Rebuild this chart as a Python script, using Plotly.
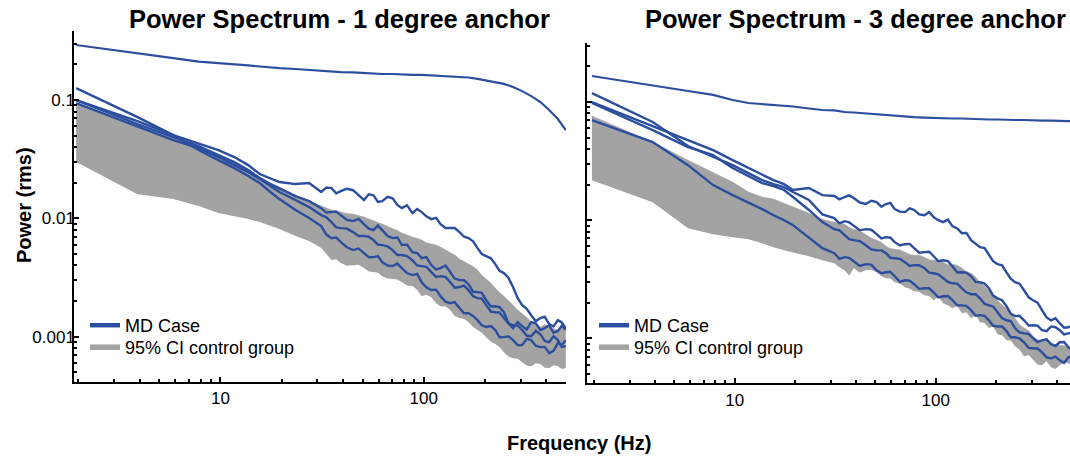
import plotly.graph_objects as go

# ---------------- data ----------------
# coarse grid for the smooth upper curves
freq = [1.95, 3.91, 5.86, 7.81, 9.77, 11.7, 13.7, 15.6, 17.6, 19.5, 23.4, 27.3, 31.3, 35.2, 39.1,
        44.9, 50.8, 56.6, 62.5, 70.3, 78.1, 87.9, 97.7, 109, 121, 135, 150, 166, 184, 203, 225,
        248, 275, 305, 338, 375, 414, 457, 500]
# finer grid for the noisy curves and the CI band
freq_fine = [1.95, 3.91, 5.86, 7.81, 9.77, 11.7, 13.7, 15.6, 17.6, 19.5, 23.4, 27.3, 31.3, 33.2, 35.2,
             37.1, 39.1, 41.9, 44.9, 47.8, 50.8, 53.7, 56.6, 59.5, 62.5, 66.4, 70.3, 74.2, 78.1, 82.8,
             87.9, 92.8, 97.7, 103, 109, 115, 121, 128, 135, 142, 150, 158, 166, 175, 184, 193, 203,
             214, 225, 236, 248, 261, 275, 290, 305, 321, 338, 356, 375, 394, 414, 435, 457, 478, 500]

# ---- 1 degree anchor ----
a1_top = [0.292, 0.250, 0.226, 0.211, 0.206, 0.200, 0.196, 0.192, 0.188, 0.186, 0.183, 0.179, 0.176,
          0.174, 0.172, 0.171, 0.169, 0.167, 0.166, 0.166, 0.164, 0.163, 0.163, 0.161, 0.160, 0.158,
          0.156, 0.155, 0.151, 0.146, 0.142, 0.137, 0.129, 0.119, 0.108, 0.0962, 0.0823, 0.0691, 0.0557]
a1_ci_hi = [0.0943, 0.0603, 0.0477, 0.0401, 0.0350, 0.0299, 0.0256, 0.0223, 0.0199, 0.0184, 0.0157, 0.0140,
            0.0127, 0.0122, 0.01175, 0.0116, 0.0113, 0.0110, 0.01087, 0.0106, 0.01026, 0.00990, 0.00949,
            0.00925, 0.00895, 0.00855, 0.00828, 0.00790, 0.00751, 0.00718, 0.00695, 0.00680, 0.00656,
            0.00622, 0.00606, 0.00595, 0.00572, 0.00540, 0.00519, 0.00490, 0.00453, 0.00428, 0.00411,
            0.00392, 0.00366, 0.00330, 0.00307, 0.00284, 0.00258, 0.00236, 0.00220, 0.00203, 0.00185,
            0.00168, 0.00158, 0.00146, 0.00133, 0.00126, 0.00121, 0.00127, 0.00123, 0.00117, 0.00114,
            0.00121, 0.00118]
a1_ci_lo = [0.0299, 0.0160, 0.01456, 0.0127, 0.01109, 0.01046, 0.00986, 0.00930, 0.00861, 0.00812, 0.00709,
            0.00643, 0.00561, 0.00500, 0.00444, 0.00452, 0.00419, 0.00398, 0.00403, 0.00405, 0.00380,
            0.00355, 0.00352, 0.00348, 0.00325, 0.00311, 0.00307, 0.00305, 0.00289, 0.00271, 0.00268,
            0.00250, 0.00220, 0.00226, 0.00216, 0.00192, 0.00181, 0.00180, 0.00168, 0.00150, 0.00144,
            0.00141, 0.00133, 0.00121, 0.00114, 0.00108, 0.000992, 0.000905, 0.000866, 0.000820,
            0.000741, 0.000680, 0.000659, 0.000652, 0.000610, 0.000570, 0.000564, 0.000596, 0.000587,
            0.000548, 0.000543, 0.000575, 0.000564, 0.000533, 0.000543]
a1_md1 = [0.100, 0.0664, 0.0506, 0.0433, 0.0378, 0.0330, 0.0282, 0.0237, 0.0219, 0.0203, 0.0195, 0.0199,
          0.0167, 0.0182, 0.0180, 0.0163, 0.0170, 0.0178, 0.0173, 0.0158, 0.0143, 0.0160, 0.0157, 0.0138,
          0.0140, 0.0152, 0.0148, 0.0130, 0.0122, 0.0129, 0.01109, 0.0120, 0.0113, 0.0104, 0.00986,
          0.0101, 0.00895, 0.00830, 0.00828, 0.00830, 0.00766, 0.00700, 0.00681, 0.00640, 0.00561,
          0.00500, 0.00480, 0.00460, 0.00411, 0.00360, 0.00345, 0.00315, 0.00263, 0.00212, 0.00185,
          0.00172, 0.00152, 0.00135, 0.00144, 0.00148, 0.00128, 0.00122, 0.00138, 0.00132, 0.00118]
a1_md2 = [0.100, 0.0627, 0.0487, 0.0409, 0.0343, 0.0299, 0.0256, 0.0219, 0.0195, 0.0180, 0.0154, 0.0140,
          0.0122, 0.0112, 0.0113, 0.0114, 0.01066, 0.0097, 0.00949, 0.0099, 0.00895, 0.0082, 0.00796,
          0.0087, 0.00796, 0.0071, 0.00681, 0.0069, 0.00595, 0.0060, 0.00519, 0.0051, 0.00462, 0.0047,
          0.00403, 0.0037, 0.00380, 0.0040, 0.00352, 0.0031, 0.00301, 0.0030, 0.00278, 0.0024, 0.00238,
          0.00235, 0.00204, 0.00180, 0.00181, 0.00178, 0.00161, 0.00130, 0.00118, 0.00133, 0.00123,
          0.00115, 0.00133, 0.00130, 0.00114, 0.00118, 0.00125, 0.00108, 0.00112, 0.00124, 0.00114]
a1_md3 = [0.0943, 0.0603, 0.0459, 0.0393, 0.0330, 0.0282, 0.0246, 0.0215, 0.0187, 0.0167, 0.0143, 0.01246,
          0.01066, 0.0102, 0.00930, 0.0084, 0.00828, 0.0082, 0.00766, 0.0071, 0.00709, 0.0070, 0.00656,
          0.0060, 0.00595, 0.0058, 0.00540, 0.0049, 0.00490, 0.0048, 0.00444, 0.0040, 0.00395, 0.0039,
          0.00352, 0.0032, 0.00325, 0.0032, 0.00289, 0.0026, 0.00263, 0.0027, 0.00248, 0.0022, 0.00212,
          0.0021, 0.00185, 0.00163, 0.00161, 0.00160, 0.00144, 0.00130, 0.00125, 0.00124, 0.00114,
          0.00102, 0.00101, 0.00112, 0.00105, 0.00092, 0.000900, 0.00101, 0.000936, 0.00082, 0.000833]
a1_md4 = [0.126, 0.0718, 0.0506, 0.0378, 0.0311, 0.0266, 0.0228, 0.0199, 0.0167, 0.01456, 0.01175, 0.01006,
          0.00861, 0.00730, 0.00681, 0.00690, 0.00631, 0.00570, 0.00540, 0.00555, 0.00509, 0.00470,
          0.00471, 0.00480, 0.00427, 0.00400, 0.00395, 0.00415, 0.00380, 0.00345, 0.00332, 0.00340,
          0.00289, 0.00262, 0.00248, 0.00250, 0.00220, 0.00198, 0.00192, 0.00196, 0.00175, 0.00158,
          0.00158, 0.00150, 0.00138, 0.00125, 0.00121, 0.00123, 0.00114, 0.000990, 0.000992, 0.001010,
          0.000936, 0.000850, 0.000849, 0.000960, 0.000936, 0.000840, 0.000817, 0.000820, 0.000727,
          0.000760, 0.000883, 0.000850, 0.000936]

# ---- 3 degree anchor ----
a3_top = [0.166, 0.137, 0.124, 0.115, 0.104, 0.0981, 0.0962, 0.0934, 0.0925, 0.0916, 0.0881, 0.0856,
          0.0848, 0.0823, 0.0815, 0.0799, 0.0783, 0.0776, 0.0761, 0.0754, 0.0746, 0.0739, 0.0732,
          0.0732, 0.0725, 0.0725, 0.0718, 0.0718, 0.0711, 0.0711, 0.0704, 0.0704, 0.0704, 0.0697,
          0.0697, 0.0697, 0.0690, 0.0690, 0.0690]
a3_ci_hi = [0.0761, 0.0458, 0.0322, 0.0255, 0.0210, 0.0173, 0.0157, 0.0151, 0.0139, 0.0131, 0.01146, 0.0102,
            0.00962, 0.00960, 0.00925, 0.00870, 0.00839, 0.00815, 0.00761, 0.00705, 0.00677, 0.00650,
            0.00602, 0.00575, 0.00568, 0.00560, 0.00536, 0.00512, 0.00505, 0.00505, 0.00486, 0.00462,
            0.00458, 0.00455, 0.00441, 0.00420, 0.00424, 0.00415, 0.00392, 0.00368, 0.00355, 0.00330,
            0.00298, 0.00275, 0.00255, 0.00236, 0.00210, 0.00190, 0.00180, 0.00166, 0.00148, 0.00130,
            0.00122, 0.00116, 0.00104, 0.00097, 0.000962, 0.00096, 0.000925, 0.00088, 0.000873, 0.00087,
            0.000823, 0.00078, 0.000791]
a3_ci_lo = [0.0218, 0.0142, 0.00855, 0.00761, 0.00718, 0.00690, 0.00639, 0.00590, 0.00557, 0.00536, 0.00495,
            0.00458, 0.00432, 0.00400, 0.00377, 0.00340, 0.00392, 0.00360, 0.00377, 0.00380, 0.00362,
            0.00335, 0.00322, 0.00320, 0.00298, 0.00290, 0.00270, 0.00262, 0.00250, 0.00248, 0.00231,
            0.00228, 0.00210, 0.00225, 0.00198, 0.00190, 0.00180, 0.00188, 0.00163, 0.00166, 0.00148,
            0.00158, 0.00137, 0.00135, 0.00122, 0.00126, 0.00108, 0.00106, 0.000962, 0.00096, 0.000855,
            0.00080, 0.000704, 0.00072, 0.000651, 0.00060, 0.000590, 0.00064, 0.000568, 0.00055,
            0.000590, 0.00062, 0.000614, 0.00058, 0.000602]
a3_md1 = [0.100, 0.0626, 0.0476, 0.0392, 0.0322, 0.0276, 0.0245, 0.0218, 0.0202, 0.0180, 0.0187, 0.0163,
          0.0160, 0.0150, 0.0157, 0.0162, 0.0154, 0.0141, 0.0137, 0.0146, 0.0142, 0.0130, 0.0137, 0.0140,
          0.0124, 0.0118, 0.0117, 0.0126, 0.0122, 0.0112, 0.0110, 0.0117, 0.0106, 0.0100, 0.00962,
          0.0101, 0.00890, 0.00850, 0.00776, 0.00780, 0.00677, 0.00630, 0.00590, 0.00580, 0.00505,
          0.00450, 0.00424, 0.00415, 0.00362, 0.00320, 0.00298, 0.00290, 0.00255, 0.00222, 0.00210,
          0.00200, 0.00173, 0.00150, 0.00142, 0.00148, 0.00134, 0.00123, 0.00124, 0.00128, 0.00117]
a3_md2 = [0.119, 0.0677, 0.0424, 0.0342, 0.0292, 0.0250, 0.0218, 0.0202, 0.0190, 0.0173, 0.0148, 0.0112,
          0.0104, 0.0094, 0.00981, 0.0096, 0.00890, 0.0082, 0.00839, 0.0083, 0.00761, 0.0070, 0.00718,
          0.0071, 0.00651, 0.0061, 0.00626, 0.0063, 0.00579, 0.0053, 0.00536, 0.0054, 0.00495, 0.0045,
          0.00458, 0.0045, 0.00408, 0.0036, 0.00362, 0.0036, 0.00335, 0.0030, 0.00298, 0.0029, 0.00265,
          0.0023, 0.00218, 0.00210, 0.00187, 0.00162, 0.00154, 0.00155, 0.00142, 0.00128, 0.00129,
          0.00128, 0.00117, 0.00115, 0.00126, 0.00124, 0.00117, 0.00108, 0.00110, 0.00112, 0.00106]
a3_md3 = [0.0981, 0.0579, 0.0416, 0.0355, 0.0276, 0.0236, 0.0206, 0.0194, 0.0180, 0.0157, 0.0122, 0.00962,
          0.00839, 0.00820, 0.00746, 0.00690, 0.00677, 0.00665, 0.00614, 0.00565, 0.00557, 0.00555,
          0.00525, 0.00480, 0.00476, 0.00470, 0.00441, 0.00410, 0.00416, 0.00415, 0.00392, 0.00360,
          0.00355, 0.00348, 0.00322, 0.00300, 0.00292, 0.00290, 0.00265, 0.00245, 0.00236, 0.00236,
          0.00218, 0.00196, 0.00190, 0.00186, 0.00166, 0.00148, 0.00142, 0.00140, 0.00122, 0.00112,
          0.00110, 0.00109, 0.00100, 0.00093, 0.000962, 0.00098, 0.000890, 0.00086, 0.000925, 0.00093,
          0.000839, 0.00080, 0.000823]
a3_md4 = [0.0704, 0.0458, 0.0292, 0.0198, 0.0163, 0.0142, 0.0124, 0.0110, 0.0100, 0.00907, 0.00704, 0.00579,
          0.00525, 0.00470, 0.00486, 0.00480, 0.00449, 0.00410, 0.00424, 0.00420, 0.00377, 0.00355,
          0.00362, 0.00365, 0.00335, 0.00300, 0.00310, 0.00308, 0.00287, 0.00262, 0.00265, 0.00265,
          0.00245, 0.00222, 0.00227, 0.00228, 0.00210, 0.00190, 0.00190, 0.00188, 0.00173, 0.00155,
          0.00157, 0.00155, 0.00142, 0.00128, 0.00126, 0.00126, 0.00115, 0.00102, 0.00102, 0.00100,
          0.000925, 0.000830, 0.000823, 0.000820, 0.000761, 0.000690, 0.000677, 0.000700, 0.000651,
          0.000620, 0.000690, 0.000700, 0.000677]

titles = ["Power Spectrum - 1 degree anchor", "Power Spectrum - 3 degree anchor"]
x_title = "Frequency (Hz)"
y_title = "Power (rms)"
legend_names = ["MD Case", "95% CI control group"]
x_tickvals = [10, 100]
x_ticktext = ["10", "100"]
x_minor = [2, 3, 4, 5, 6, 7, 8, 9, 20, 30, 40, 50, 60, 70, 80, 90, 200, 300, 400, 500]
y_tickvals = [0.001, 0.01, 0.1]
y_ticktext = ["0.001", "0.01", "0.1"]
y_minor = [0.0005, 0.0006, 0.0007, 0.0008, 0.0009, 0.002, 0.003, 0.004, 0.005, 0.006, 0.007, 0.008,
           0.009, 0.02, 0.03, 0.04, 0.05, 0.06, 0.07, 0.08, 0.09, 0.2, 0.3]

BLUE = "#2b4f9e"
GRAY = "#a3a3a3"
FONT = "Liberation Sans, Arial, Helvetica, sans-serif"

W, H = 1070, 459

fig = go.Figure()

panels = [
    ("x", "y", ("legend", "legend2"), a1_ci_lo, a1_ci_hi, a1_top, [a1_md1, a1_md2, a1_md3, a1_md4]),
    ("x2", "y2", ("legend3", "legend4"), a3_ci_lo, a3_ci_hi, a3_top, [a3_md1, a3_md2, a3_md3, a3_md4]),
]

for xa, ya, lgs, lo, hi, top, mds in panels:
    fig.add_trace(go.Scatter(x=freq_fine, y=lo, xaxis=xa, yaxis=ya, mode="lines",
                             line=dict(width=0, color=GRAY), showlegend=False, hoverinfo="skip"))
    fig.add_trace(go.Scatter(x=freq_fine, y=hi, xaxis=xa, yaxis=ya, mode="lines", fill="tonexty",
                             fillcolor=GRAY, line=dict(width=0.5, color=GRAY), showlegend=False,
                             hoverinfo="skip"))
    fig.add_trace(go.Scatter(x=freq, y=top, xaxis=xa, yaxis=ya, mode="lines",
                             line=dict(width=2.2, color=BLUE), showlegend=False))
    for s in mds:
        fig.add_trace(go.Scatter(x=freq_fine, y=s, xaxis=xa, yaxis=ya, mode="lines",
                                 line=dict(width=2.4, color=BLUE), showlegend=False))
    # legend entries (one legend box per entry for exact spacing)
    fig.add_trace(go.Scatter(x=[None], y=[None], xaxis=xa, yaxis=ya, mode="lines",
                             line=dict(width=4.5, color=BLUE), name=legend_names[0], legend=lgs[0]))
    fig.add_trace(go.Scatter(x=[None], y=[None], xaxis=xa, yaxis=ya, mode="lines",
                             line=dict(width=5.5, color=GRAY), name=legend_names[1], legend=lgs[1]))


def px_x(p):
    return p / W


def px_y(p):
    return 1 - p / H


axis_common = dict(
    type="log", showline=True, linecolor="black", linewidth=2, mirror=False,
    ticks="inside", ticklen=5, tickwidth=2, tickcolor="black", showgrid=False, zeroline=False,
    tickfont=dict(family=FONT, size=17, color="black"),
)
minor_common = dict(ticks="inside", ticklen=3, tickwidth=1.5, tickcolor="black",
                    tickmode="array", showgrid=False)


def legend_box(xp, yp):
    return dict(x=px_x(xp), y=px_y(yp), xanchor="left", yanchor="top", bgcolor="rgba(0,0,0,0)",
                font=dict(family=FONT, size=18, color="black"), traceorder="normal",
                tracegroupgap=0, itemwidth=30)


fig.update_layout(
    width=W, height=H,
    margin=dict(l=0, r=0, t=0, b=0),
    paper_bgcolor="white", plot_bgcolor="white",
    xaxis=dict(axis_common, domain=[px_x(74.3), px_x(566)], range=[0.281, 2.700], anchor="y",
               tickmode="array", tickvals=x_tickvals, ticktext=x_ticktext,
               minor=dict(minor_common, tickvals=x_minor)),
    yaxis=dict(axis_common, domain=[px_y(381.7), px_y(30.7)], range=[-3.38, -0.414], anchor="x",
               tickmode="array", tickvals=y_tickvals, ticktext=y_ticktext, ticklabelstandoff=-6,
               minor=dict(minor_common, tickvals=y_minor)),
    xaxis2=dict(axis_common, domain=[px_x(587.3), 1.0], range=[0.267, 2.668], anchor="y2",
                tickmode="array", tickvals=x_tickvals, ticktext=x_ticktext,
                minor=dict(minor_common, tickvals=x_minor)),
    yaxis2=dict(axis_common, domain=[px_y(383.3), px_y(43.3)], range=[-3.381, -0.503], anchor="x2",
                tickmode="array", tickvals=y_tickvals, showticklabels=False,
                minor=dict(minor_common, tickvals=y_minor)),
    legend=legend_box(85, 307),
    legend2=legend_box(85, 329),
    legend3=legend_box(594, 307),
    legend4=legend_box(594, 329),
    showlegend=True,
    hovermode=False,
)

annotations = [
    dict(text="<b>%s</b>" % titles[0], x=px_x(339.5), y=px_y(19), xref="paper", yref="paper",
         xanchor="center", yanchor="middle", showarrow=False,
         font=dict(family=FONT, size=25.5, color="black")),
    dict(text="<b>%s</b>" % titles[1], x=px_x(855), y=px_y(19), xref="paper", yref="paper",
         xanchor="center", yanchor="middle", showarrow=False,
         font=dict(family=FONT, size=25.5, color="black")),
    dict(text="<b>%s</b>" % x_title, x=px_x(579), y=px_y(443), xref="paper", yref="paper",
         xanchor="center", yanchor="middle", showarrow=False,
         font=dict(family=FONT, size=20, color="black")),
    dict(text="<b>%s</b>" % y_title, x=px_x(24), y=px_y(205), xref="paper", yref="paper",
         xanchor="center", yanchor="middle", showarrow=False, textangle=-90,
         font=dict(family=FONT, size=20, color="black")),
]
fig.update_layout(annotations=annotations)

fig.write_html("out.html", config={"displayModeBar": False},
               post_script="document.body.style.margin='0px';")
